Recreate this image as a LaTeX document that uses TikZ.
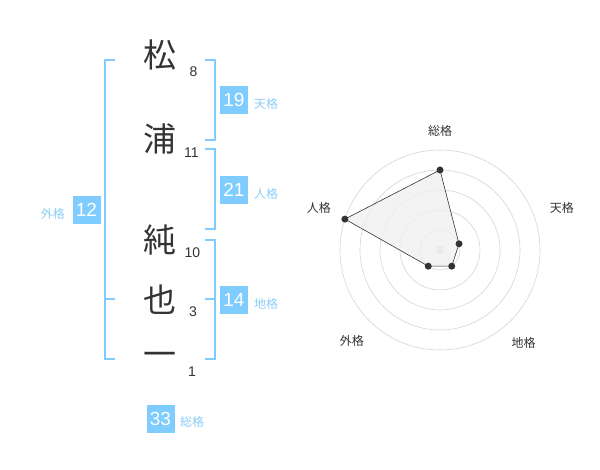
\documentclass[tikz,border=0pt]{standalone}
\usepackage{fontspec}
\setmainfont{Liberation Sans}
\newfontfamily\jfont{Noto Sans CJK JP}
\definecolor{kakublue}{RGB}{127,204,255}
\definecolor{kakutext}{RGB}{140,205,245}
\definecolor{inkgray}{RGB}{51,51,51}
\definecolor{ringgray}{RGB}{212,212,212}
\tikzset{
  kanji/.style={font=\jfont\fontsize{33}{33}\selectfont, text=inkgray, inner sep=0pt},
  strokes/.style={font=\fontsize{14}{14}\selectfont, text=inkgray, inner sep=0pt},
  kakubox/.style={fill=kakublue, text=white, minimum size=28pt, inner sep=0pt, font=\fontsize{19}{19}\selectfont},
  kakuname/.style={text=kakutext, font=\jfont\fontsize{12}{12}\selectfont, inner sep=0pt},
  bracket/.style={draw=kakublue, line width=1.6pt},
  axisname/.style={text=inkgray, font=\jfont\fontsize{12}{12}\selectfont, inner sep=0pt}
}
\begin{document}
\begin{tikzpicture}[x=1pt,y=1pt]
\useasboundingbox (0,0) rectangle (600,470);

\node[kanji] (matsu) at (160,415) {松};
\node[kanji] (ura) at (160,331) {浦};
\node[kanji] (jun) at (160,230) {純};
\node[kanji] (nari) at (160,170) {也};
\node[kanji] (ichi) at (160,111) {一};

\node[strokes] (s8) at (193.5,398) {8};
\node[strokes] (s11) at (191.5,317) {11};
\node[strokes] (s10) at (192.5,217.5) {10};
\node[strokes] (s3) at (193,158) {3};
\node[strokes] (s1) at (192,98) {1};

\draw[bracket] (205,410)--(215,410)--(215,330)--(205,330);
\draw[bracket] (205,320.7)--(215,320.7)--(215,240.7)--(205,240.7);
\draw[bracket] (205,230)--(215,230)--(215,110.7)--(205,110.7);
\draw[bracket] (205,170.7)--(215,170.7);
\draw[bracket] (115,410)--(105,410)--(105,110.7)--(115,110.7);
\draw[bracket] (105,170.7)--(115,170.7);

\node[kakubox] (ten) at (234,370) {19};
\node[kakuname, anchor=west] (tenname) at (254,366) {天格};
\node[kakubox] (jin) at (234,280) {21};
\node[kakuname, anchor=west] (jinname) at (254,276) {人格};
\node[kakubox] (chi) at (234,170) {14};
\node[kakuname, anchor=west] (chiname) at (254,166) {地格};
\node[kakubox] (gai) at (86.5,260) {12};
\node[kakuname, anchor=east] (gainame) at (65,256) {外格};
\node[kakubox] (sou) at (160.5,51) {33};
\node[kakuname, anchor=west] (souname) at (180,48) {総格};

\coordinate (c) at (440,220);
\foreach \r in {20,40,...,100}
        \draw[ringgray, line width=0.6pt] (c) circle (\r);
\fill[ringgray] (c) circle (4);

\foreach \ang/\r/\nm in {90/80/psou, 18/20/pten, -54/20/pchi, -126/20/pgai, 162/100/pjin}
        \coordinate (\nm) at ([shift={(\ang:\r)}]c);
\filldraw[fill=black!6, draw=inkgray, line width=0.6pt, fill opacity=0.8]
        (psou)--(pten)--(pchi)--(pgai)--(pjin)--cycle;
\foreach \nm in {psou,pten,pchi,pgai,pjin}
        \fill[inkgray] (\nm) circle (3.5);

\node[axisname] (asou) at ([shift={(90:119)}]c) {総格};
\node[axisname] (aten) at ([shift={(19:129)}]c) {天格};
\node[axisname] (ajin) at ([shift={(161:128)}]c) {人格};
\node[axisname] (agai) at ([shift={(-134:127)}]c) {外格};
\node[axisname] (achi) at ([shift={(-48:125)}]c) {地格};
\end{tikzpicture}
\end{document}
